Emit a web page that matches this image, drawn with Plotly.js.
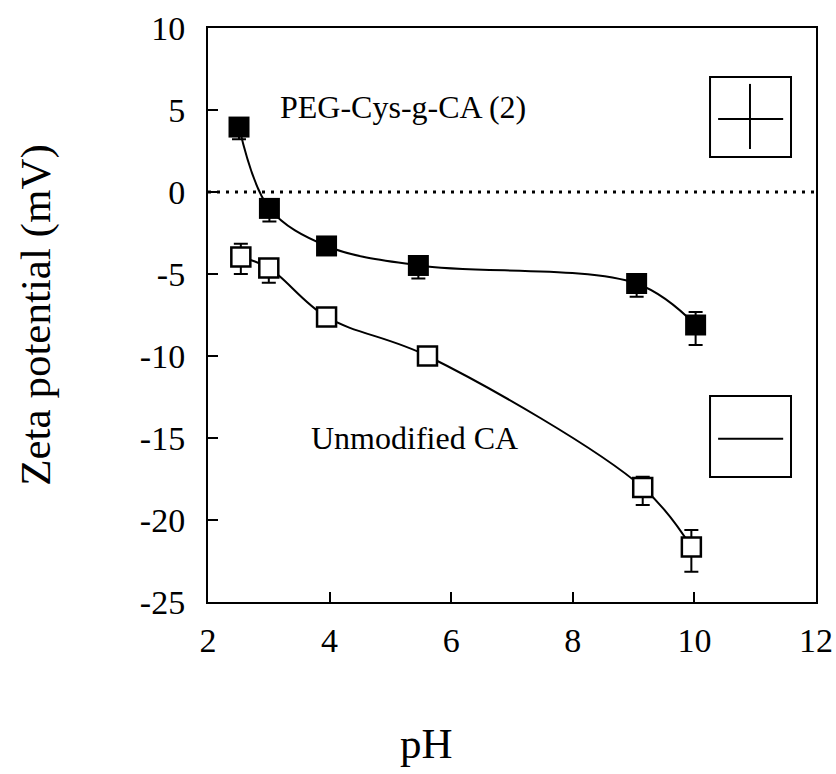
<!DOCTYPE html>
<html>
<head>
<meta charset="utf-8">
<script src="https://cdn.plot.ly/plotly-3.0.1.min.js"></script>
<style>html,body{margin:0;padding:0;background:#fff;}#chart{width:836px;height:774px;}</style>
</head>
<body>
<div id="chart"></div>
<script>
// PEG-Cys-g-CA (2) — filled squares
const pegPH = [2.51, 3.01, 3.95, 5.46, 9.05, 10.02];
const pegZeta = [3.96, -1.0, -3.29, -4.48, -5.58, -8.11];
const pegErrPlus = [0.5, 0.5, 0.3, 0.5, 0.5, 0.79];
const pegErrMinus = [0.75, 0.8, 0.3, 0.8, 0.8, 1.22];

// Unmodified CA — open squares
const caPH = [2.54, 3.0, 3.95, 5.61, 9.15, 9.95];
const caZeta = [-3.96, -4.63, -7.62, -10.0, -18.02, -21.65];
const caErrPlus = [0.8, 0.5, 0.3, 0.3, 0.66, 1.04];
const caErrMinus = [1.04, 0.9, 0.3, 0.3, 1.07, 1.5];

const xTicks = [2, 4, 6, 8, 10, 12];
const yTicks = [-25, -20, -15, -10, -5, 0, 5, 10];

const FONT = 'Liberation Serif, Times New Roman, serif';

const traces = [
  {
    x: caPH, y: caZeta, mode: 'lines+markers', type: 'scatter', name: 'Unmodified CA',
    line: {color: '#000', width: 2, shape: 'spline', smoothing: 1},
    marker: {symbol: 'square', size: 19, color: '#fff', line: {color: '#000', width: 2.5}},
    error_y: {type: 'data', symmetric: false, array: caErrPlus, arrayminus: caErrMinus,
              color: '#000', thickness: 2, width: 7},
    showlegend: false, cliponaxis: false
  },
  {
    x: pegPH, y: pegZeta, mode: 'lines+markers', type: 'scatter', name: 'PEG-Cys-g-CA (2)',
    line: {color: '#000', width: 2, shape: 'spline', smoothing: 1},
    marker: {symbol: 'square', size: 21, color: '#000', line: {color: '#000', width: 0}},
    error_y: {type: 'data', symmetric: false, array: pegErrPlus, arrayminus: pegErrMinus,
              color: '#000', thickness: 2, width: 7},
    showlegend: false, cliponaxis: false
  }
];

const layout = {
  width: 836, height: 774,
  margin: {l: 208, r: 20, t: 28, b: 172},
  paper_bgcolor: '#fff', plot_bgcolor: '#fff',
  font: {family: FONT, color: '#000', size: 32},
  showlegend: false,
  xaxis: {
    range: [2, 12], tickvals: xTicks, ticktext: xTicks.map(String),
    showline: true, linecolor: '#000', linewidth: 2, mirror: true,
    ticks: 'inside', ticklen: 10, tickwidth: 2, tickcolor: '#000',
    showgrid: false, zeroline: false,
    tickfont: {family: FONT, size: 34, color: '#000'},
    ticklabelstandoff: 7,
    title: {text: ''},
    automargin: false
  },
  yaxis: {
    range: [-25, 10], tickvals: yTicks, ticktext: yTicks.map(String),
    showline: true, linecolor: '#000', linewidth: 2, mirror: true,
    ticks: 'inside', ticklen: 10, tickwidth: 2, tickcolor: '#000',
    showgrid: false, zeroline: false,
    tickfont: {family: FONT, size: 34, color: '#000'},
    ticklabelstandoff: 14,
    title: {text: 'Zeta potential (mV)', font: {family: FONT, size: 43, color: '#000'}, standoff: 76},
    automargin: false
  },
  shapes: [
    {type: 'line', xref: 'x', yref: 'y', x0: 2, x1: 12, y0: 0, y1: 0,
     line: {color: '#000', width: 3, dash: '3px,6px'}, layer: 'below'},
    {type: 'rect', xref: 'x', yref: 'y', x0: 10.257, x1: 11.589, y0: 2.13, y1: 7.01,
     line: {color: '#000', width: 2}, fillcolor: 'rgba(0,0,0,0)'},
    {type: 'line', xref: 'x', yref: 'y', x0: 10.39, x1: 11.46, y0: 4.45, y1: 4.45,
     line: {color: '#000', width: 2}},
    {type: 'line', xref: 'x', yref: 'y', x0: 10.914, x1: 10.914, y0: 2.62, y1: 6.59,
     line: {color: '#000', width: 2}},
    {type: 'rect', xref: 'x', yref: 'y', x0: 10.257, x1: 11.589, y0: -17.38, y1: -12.44,
     line: {color: '#000', width: 2}, fillcolor: 'rgba(0,0,0,0)'},
    {type: 'line', xref: 'x', yref: 'y', x0: 10.39, x1: 11.46, y0: -15.04, y1: -15.04,
     line: {color: '#000', width: 2}}
  ],
  annotations: [
    {text: 'PEG-Cys-g-CA (2)', xref: 'x', yref: 'y', x: 5.2, y: 5.18, showarrow: false,
     font: {family: FONT, size: 32, color: '#000'}},
    {text: 'Unmodified CA', xref: 'x', yref: 'y', x: 5.39, y: -15.0, showarrow: false,
     font: {family: FONT, size: 32, color: '#000'}},
    {text: 'pH', xref: 'paper', yref: 'paper', x: 0.3596, y: -0.246, showarrow: false,
     xanchor: 'center', yanchor: 'middle',
     font: {family: FONT, size: 43, color: '#000'}}
  ]
};

Plotly.newPlot('chart', traces, layout, {displayModeBar: false, staticPlot: true});
</script>
</body>
</html>
